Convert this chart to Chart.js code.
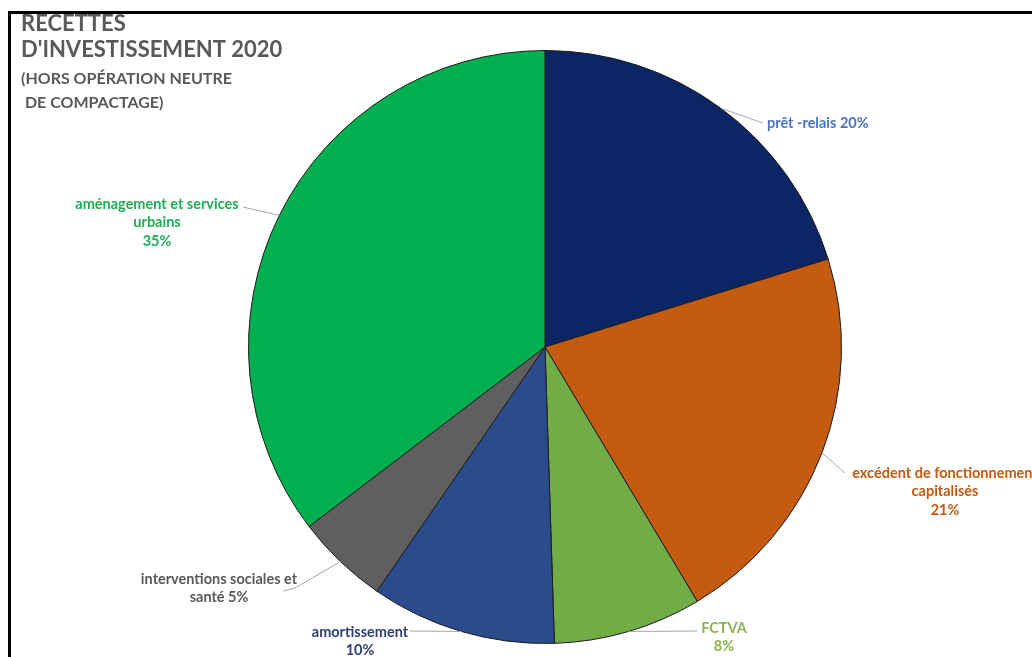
<!DOCTYPE html>
<html>
<head>
<meta charset="utf-8">
<script src="https://cdn.jsdelivr.net/npm/chart.js@4/dist/chart.umd.min.js"></script>
<style>
  html, body { margin: 0; padding: 0; background: #fff; }
  #wrap { width: 1032px; height: 657px; position: relative; }
</style>
</head>
<body>
<div id="wrap"><canvas id="recettes" width="1032" height="657"></canvas></div>
<script>
const categories = ['prêt -relais', 'excédent de fonctionnement capitalisés', 'FCTVA', 'amortissement', 'interventions sociales et santé', 'aménagement et services urbains'];
const values = [20, 21, 8, 10, 5, 35];
const sliceColors = ['#0b2565', '#c55a11', '#70ad47', '#2b4c8c', '#5f5f5f', '#00b050'];
const labelColors = ['#4a72c4', '#c55a11', '#8db351', '#2b3f73', '#595959', '#1fae55'];

const titleLines = ['RECETTES', "D'INVESTISSEMENT 2020", '(HORS OPÉRATION NEUTRE', ' DE COMPACTAGE)'];

// where each label sits and how its leader line bends
const labelLayout = [
    { lines: i => ['prêt -relais ' + values[i] + '%'], x: 767, y: 123, align: 'left', leader: [[763, 123]] },
    { lines: i => ['excédent de fonctionnement', 'capitalisés', values[i] + '%'], x: 945, y: 473, align: 'center', leader: [[845, 473]] },
    { lines: i => ['FCTVA', values[i] + '%'], x: 724, y: 628, align: 'center', leader: [[697, 631]] },
    { lines: i => ['amortissement', values[i] + '%'], x: 360, y: 632, align: 'center', leader: [[410, 631]] },
    { lines: i => ['interventions sociales et', 'santé ' + values[i] + '%'], x: 219, y: 579, align: 'center', leader: [[295, 588], [283, 591]] },
    { lines: i => ['aménagement et services', 'urbains', values[i] + '%'], x: 157, y: 204, align: 'center', leader: [[243, 207]] }
];

const sliceLabels = {
    id: 'sliceLabels',
    afterDraw(chart) {
        const ctx = chart.ctx;
        const arcs = chart.getDatasetMeta(0).data;
        ctx.save();

        // frame
        ctx.fillStyle = '#000';
        ctx.fillRect(8, 11, 1024, 3);
        ctx.fillRect(8, 11, 3, 646);

        // title
        ctx.fillStyle = '#595959';
        ctx.textAlign = 'left';
        ctx.textBaseline = 'middle';
        ctx.font = 'bold 22px Lato';
        ctx.fillText(titleLines[0], 21, 24);
        ctx.fillText(titleLines[1], 21, 50);
        ctx.font = 'bold 16px Lato';
        ctx.fillText(titleLines[2], 21, 79);
        ctx.fillText(titleLines[3], 21, 103);

        arcs.forEach((arc, i) => {
            const p = arc.getProps(['x', 'y', 'startAngle', 'endAngle', 'outerRadius'], true);
            const mid = (p.startAngle + p.endAngle) / 2;
            const lay = labelLayout[i];

            ctx.strokeStyle = '#a6a6a6';
            ctx.lineWidth = 1;
            ctx.beginPath();
            ctx.moveTo(p.x + p.outerRadius * Math.cos(mid), p.y + p.outerRadius * Math.sin(mid));
            lay.leader.forEach(pt => ctx.lineTo(pt[0], pt[1]));
            ctx.stroke();

            ctx.fillStyle = labelColors[i];
            ctx.font = 'bold 14.5px Lato';
            ctx.textAlign = lay.align;
            lay.lines(i).forEach((line, k) => {
                ctx.fillText(line, lay.x, lay.y + k * 18.5);
            });
        });
        ctx.restore();
    }
};

new Chart(document.getElementById('recettes'), {
    type: 'pie',
    data: {
        labels: categories,
        datasets: [{
            data: values,
            backgroundColor: sliceColors,
            borderColor: '#1c1c1c',
            borderWidth: 1
        }]
    },
    options: {
        responsive: false,
        animation: false,
        layout: { padding: { top: 50, bottom: 13, left: 248, right: 190 } },
        plugins: {
            legend: { display: false },
            tooltip: { enabled: false }
        }
    },
    plugins: [sliceLabels]
});
</script>
</body>
</html>
